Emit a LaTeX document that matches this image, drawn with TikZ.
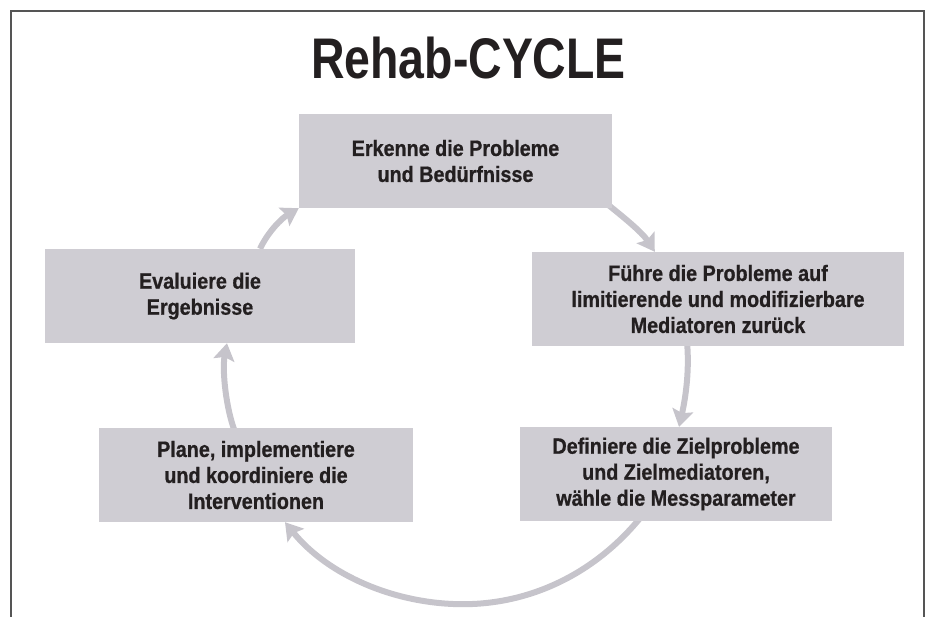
\documentclass[tikz,border=0pt]{standalone}
\usepackage{fontspec}
\setmainfont{Liberation Sans}
\newfontfamily\titlefont[FakeStretch=0.81]{Liberation Sans}
\newfontfamily\boxfont[FakeStretch=0.89,FakeBold=0.8]{Liberation Sans}
\usetikzlibrary{arrows.meta,calc,backgrounds}
\definecolor{boxfill}{RGB}{207,205,211}
\definecolor{arrowcol}{RGB}{198,196,203}
\definecolor{framecol}{RGB}{85,85,85}
\definecolor{inkcol}{RGB}{35,31,32}
\tikzset{
  stepbox/.style={draw=none, fill=boxfill, minimum height=94pt, inner sep=0pt,
    align=center, text=inkcol, font=\boxfont\bfseries\fontsize{22.2}{26}\selectfont},
  cyclearrow/.style={draw=arrowcol, line width=6pt,
    -{Stealth[length=17pt,width=21pt,inset=3pt]}}
}
\begin{document}
\begin{tikzpicture}[x=1pt,y=-1pt]
\useasboundingbox (0,0) rectangle (928,617);
\draw[framecol, line width=1.3pt] (11,617) -- (11,11) -- (924,11) -- (924,617);
\node[anchor=base, text=inkcol, font=\titlefont\bfseries\fontsize{57.3}{60}\selectfont] (title) at (468.5,79) {Rehab-CYCLE};

\node[stepbox, minimum width=313pt] (er) at (455.5,161) {Erkenne die Probleme\\und Bedürfnisse};
\node[stepbox, minimum width=372pt] (fu) at (718,299) {Führe die Probleme auf\\limitierende und modifizierbare\\Mediatoren zurück};
\node[stepbox, minimum width=312pt] (de) at (676,474) {Definiere die Zielprobleme\\und Zielmediatoren,\\wähle die Messparameter};
\node[stepbox, minimum width=314pt] (pl) at (256,475) {Plane, implementiere\\und koordiniere die\\Interventionen};
\node[stepbox, minimum width=310pt] (ev) at (200,296) {Evaluiere die\\Ergebnisse};

\begin{scope}[on background layer]
\draw[cyclearrow] ($(ev.north)+(60,0)$) .. controls +(8,-17) and +(-17,10) .. (er.south west);
\draw[cyclearrow] ($(er.south east)+(-6,-5)$) .. controls +(16,13) and +(-13,-20) .. ($(fu.north west)+(123,0)$);
\draw[cyclearrow] ($(fu.south)+(-31,-4)$) .. controls +(3,33) and +(5,-22) .. ($(de.north)+(3,0)$);
\draw[cyclearrow] ($(de.south)+(-32,-8)$) .. controls +(-47,60) and +(68,0) .. ($($(de.south)!0.5!(pl.south)$)+(-3,82.5)$)
   .. controls +(-68,0) and +(43,53) .. ($(pl.south)+(29,0)$);
\draw[cyclearrow] ($(pl.north)+(-21,4)$) .. controls +(-9,-23) and +(-5,27) .. ($(ev.south)+(27,0)$);
\end{scope}
\end{tikzpicture}
\end{document}
